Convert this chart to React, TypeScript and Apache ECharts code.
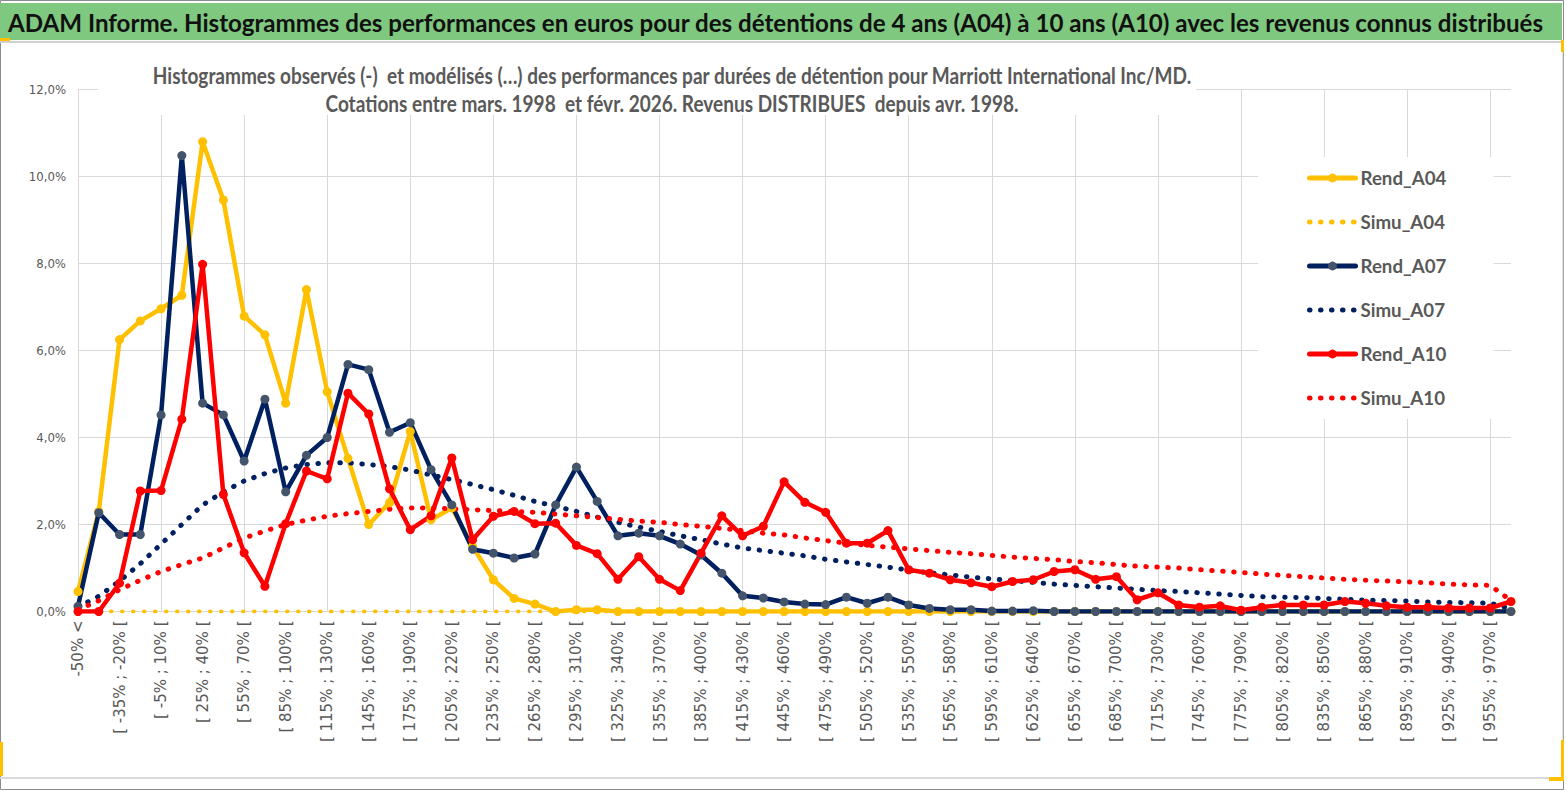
import React, { useEffect, useRef } from "react";
import * as echarts from "echarts";

const W = 1567;
const H = 791;

const mainTitle =
  "ADAM Informe. Histogrammes des performances en euros pour des détentions de 4 ans (A04) à 10 ans (A10) avec les revenus connus distribués";
const subTitle1 =
  "Histogrammes observés (-)  et modélisés (…) des performances par durées de détention pour Marriott International Inc/MD.";
const subTitle2 =
  "Cotations entre mars. 1998  et févr. 2026. Revenus DISTRIBUES  depuis avr. 1998.";

// category labels: first "-50% <", then 15-point brackets
const categories: string[] = ["-50% <"];
for (let k = 1; k < 70; k++) {
  const lo = -50 + 15 * (k - 1);
  categories.push(`[ ${lo}% ; ${lo + 15}% [`);
}

const yTicks = [0, 2, 4, 6, 8, 10, 12];

const rendA04 = [
  0.46, 2.3, 6.25, 6.68, 6.96, 7.27, 10.8, 9.46, 6.79, 6.36,
  4.79, 7.4, 5.05, 3.52, 2.0, 2.5, 4.14, 2.11, 2.38, 1.5,
  0.73, 0.3, 0.17, 0.0, 0.04, 0.04, 0.0, 0, 0, 0,
  0, 0, 0, 0, 0, 0, 0, 0, 0, 0,
  0, 0, 0, 0, 0, 0, 0, 0, 0, 0,
  0, 0, 0, 0, 0, 0, 0, 0, 0, 0,
  0, 0, 0, 0, 0, 0, 0, 0, 0, 0,
];

const simuA04 = [
  0, 0, 0, 0, 0, 0, 0, 0, 0, 0,
  0, 0, 0, 0, 0, 0, 0, 0, 0, 0,
  0, 0, 0, 0, 0, 0, 0, 0, 0, 0,
  0, 0, 0, 0, 0, 0, 0, 0, 0, 0,
  0, 0, 0, 0, 0, 0, 0, 0, 0, 0,
  0, 0, 0, 0, 0, 0, 0, 0, 0, 0,
  0, 0, 0, 0, 0, 0, 0, 0, 0, 0,
];

const rendA07 = [
  0.12, 2.27, 1.77, 1.77, 4.52, 10.48, 4.79, 4.52, 3.46, 4.88,
  2.75, 3.59, 4.0, 5.68, 5.56, 4.12, 4.34, 3.26, 2.45, 1.43,
  1.34, 1.23, 1.32, 2.45, 3.32, 2.53, 1.74, 1.8, 1.74, 1.55,
  1.3, 0.88, 0.36, 0.31, 0.22, 0.17, 0.16, 0.33, 0.19, 0.33,
  0.15, 0.07, 0.04, 0.04, 0.01, 0.01, 0.02, 0, 0, 0,
  0, 0, 0, 0, 0, 0, 0, 0, 0, 0,
  0, 0, 0, 0, 0, 0, 0, 0, 0, 0,
];

const simuA07 = [
  0.1, 0.35, 0.7, 1.1, 1.55, 2.0, 2.45, 2.75, 3.0, 3.17,
  3.3, 3.38, 3.42, 3.42, 3.38, 3.33, 3.25, 3.14, 3.03, 2.92,
  2.8, 2.67, 2.53, 2.42, 2.3, 2.17, 2.05, 1.94, 1.84, 1.74,
  1.65, 1.55, 1.46, 1.4, 1.34, 1.28, 1.2, 1.14, 1.08, 1.02,
  0.95, 0.89, 0.84, 0.79, 0.75, 0.71, 0.67, 0.63, 0.6, 0.57,
  0.54, 0.51, 0.48, 0.46, 0.43, 0.4, 0.37, 0.34, 0.33, 0.32,
  0.3, 0.28, 0.26, 0.25, 0.24, 0.22, 0.21, 0.2, 0.19, 0.06,
];

const rendA10 = [
  0, 0, 0.65, 2.77, 2.78, 4.42, 7.98, 2.69, 1.35, 0.58,
  2.02, 3.23, 3.05, 5.02, 4.54, 2.82, 1.88, 2.2, 3.53, 1.65,
  2.19, 2.3, 2.02, 2.03, 1.52, 1.33, 0.74, 1.26, 0.74, 0.48,
  1.34, 2.2, 1.74, 1.96, 2.98, 2.51, 2.28, 1.57, 1.57, 1.86,
  0.96, 0.88, 0.73, 0.66, 0.57, 0.69, 0.73, 0.92, 0.96, 0.74,
  0.8, 0.27, 0.43, 0.15, 0.1, 0.13, 0.03, 0.1, 0.15, 0.15,
  0.15, 0.23, 0.19, 0.13, 0.1, 0.1, 0.08, 0.08, 0.08, 0.23,
];

const simuA10 = [
  0.04, 0.25, 0.5, 0.72, 0.92, 1.08, 1.23, 1.46, 1.69, 1.85,
  2.0, 2.1, 2.19, 2.25, 2.3, 2.35, 2.38, 2.38, 2.36, 2.34,
  2.32, 2.3, 2.28, 2.24, 2.2, 2.16, 2.12, 2.08, 2.05, 2.0,
  1.96, 1.91, 1.86, 1.8, 1.76, 1.69, 1.63, 1.57, 1.52, 1.48,
  1.44, 1.4, 1.36, 1.33, 1.29, 1.25, 1.22, 1.19, 1.15, 1.12,
  1.08, 1.04, 1.02, 1.0, 0.96, 0.93, 0.9, 0.86, 0.83, 0.8,
  0.77, 0.74, 0.72, 0.7, 0.68, 0.66, 0.63, 0.61, 0.6, 0.25,
];

const YELLOW = "#FFC000";
const NAVY = "#002060";
const NAVY_MARK = "#44546A";
const RED = "#FF0000";
const GRID = "#d9d9d9";
const TXT = "#595959";

function measure(text: string, font: string): number {
  const c = document.createElement("canvas").getContext("2d");
  if (!c) return 1000;
  c.font = font;
  return c.measureText(text).width;
}

function rendSeries(name: string, data: number[], color: string, mark: string) {
  return {
    name,
    type: "line",
    data,
    symbol: "circle",
    symbolSize: 9,
    showSymbol: true,
    lineStyle: { width: 4.5, color, cap: "round", join: "round" },
    itemStyle: { color: mark, borderWidth: 0 },
    emphasis: { disabled: true },
  };
}

function simuSeries(name: string, data: number[], color: string, width: number) {
  return {
    name,
    type: "line",
    data,
    symbol: "none",
    lineStyle: { width, color, type: [0.5, 10.5], cap: "round" },
    itemStyle: { color },
    emphasis: { disabled: true },
  };
}

export default function App() {
  const ref = useRef<HTMLDivElement>(null);
  useEffect(() => {
    if (!ref.current) return;
    const chart = echarts.init(ref.current, undefined, { renderer: "svg" });

    const titleFont = "bold 25px Lato";
    const subFont = "bold 22px Lato";
    const titleScale = 1537 / measure(mainTitle, titleFont);
    const subScale = 1040 / measure(subTitle1, subFont);
    const legendSize = Math.round(20 * (86 / measure("Rend_A04", "bold 20px Lato")) * 10) / 10;

    const hiddenMark = { opacity: 0 };

    const option: any = {
      animation: false,
      backgroundColor: "#ffffff",
      grid: { left: 78, right: W - 1511, top: 89.5, bottom: H - 611.5, containLabel: false },
      xAxis: {
        type: "category",
        data: categories,
        boundaryGap: false,
        axisLine: { show: true, lineStyle: { color: GRID, width: 1 } },
        axisTick: { show: false },
        axisLabel: {
          interval: 1,
          rotate: 90,
          margin: 9,
          color: TXT,
          fontSize: 15,
          fontFamily: "DejaVu Sans",
        },
        splitLine: {
          show: true,
          interval: (i: number) => i % 4 === 0,
          lineStyle: { color: GRID, width: 1 },
        },
      },
      yAxis: {
        type: "value",
        min: yTicks[0],
        max: yTicks[yTicks.length - 1],
        interval: 2,
        axisLine: { show: false },
        axisTick: { show: false },
        axisLabel: {
          margin: 12,
          color: TXT,
          fontSize: 13,
          fontFamily: "DejaVu Sans Condensed",
          formatter: (v: number) => v.toFixed(1).replace(".", ",") + "%",
        },
        splitLine: { show: true, lineStyle: { color: GRID, width: 1 } },
      },
      legend: {
        orient: "vertical",
        left: 1258,
        top: 157,
        padding: [10, 47, 10, 49],
        backgroundColor: "#ffffff",
        itemWidth: 46,
        itemHeight: 11,
        itemGap: 22,
        selectedMode: false,
        lineStyle: { width: 5 },
        data: [
          { name: "Rend_A04" },
          { name: "Simu_A04", itemStyle: hiddenMark },
          { name: "Rend_A07" },
          { name: "Simu_A07", itemStyle: hiddenMark },
          { name: "Rend_A10" },
          { name: "Simu_A10", itemStyle: hiddenMark },
        ],
        textStyle: {
          color: TXT,
          fontSize: legendSize,
          fontWeight: "bold",
          lineHeight: 22,
          fontFamily: "Lato",
        },
      },
      series: [
        rendSeries("Rend_A04", rendA04, YELLOW, YELLOW),
        simuSeries("Simu_A04", simuA04, YELLOW, 4),
        rendSeries("Rend_A07", rendA07, NAVY, NAVY_MARK),
        simuSeries("Simu_A07", simuA07, NAVY, 5),
        rendSeries("Rend_A10", rendA10, RED, RED),
        simuSeries("Simu_A10", simuA10, RED, 5),
      ],
      graphic: [
        { type: "rect", z: 0, silent: true, shape: { x: 0.5, y: 0.5, width: 1563, height: 789 }, style: { fill: "none", stroke: "#8c8c8c", lineWidth: 1 } },
        { type: "rect", z: 1, silent: true, shape: { x: 0, y: 3, width: 1562, height: 37 }, style: { fill: "#7fc87f" } },
        { type: "line", z: 1, silent: true, shape: { x1: 0, y1: 42, x2: 1562, y2: 42 }, style: { stroke: "#d0d0d0", lineWidth: 2 } },
        { type: "line", z: 1, silent: true, shape: { x1: 0, y1: 778, x2: 1562, y2: 778 }, style: { stroke: "#d9d9d9", lineWidth: 2 } },
        { type: "line", z: 1, silent: true, shape: { x1: 1563, y1: 40, x2: 1563, y2: 780 }, style: { stroke: "#bfbfbf", lineWidth: 1 } },
        { type: "rect", z: 2, silent: true, shape: { x: 0, y: 38, width: 10, height: 3 }, style: { fill: YELLOW } },
        { type: "rect", z: 2, silent: true, shape: { x: 1561, y: 40, width: 3, height: 12 }, style: { fill: YELLOW } },
        { type: "rect", z: 2, silent: true, shape: { x: 1561, y: 740, width: 3, height: 40 }, style: { fill: YELLOW } },
        { type: "rect", z: 2, silent: true, shape: { x: 1549, y: 777, width: 15, height: 4 }, style: { fill: YELLOW } },
        { type: "rect", z: 2, silent: true, shape: { x: 0, y: 742, width: 3, height: 34 }, style: { fill: YELLOW } },
        {
          type: "text",
          z: 3,
          silent: true,
          x: 8,
          y: 22,
          scaleX: titleScale,
          style: { text: mainTitle, font: titleFont, fill: "#111111", align: "left", verticalAlign: "middle" },
        },
        { type: "rect", z: 3, silent: true, shape: { x: 98, y: 57, width: 1098, height: 58 }, style: { fill: "#ffffff" } },
        {
          type: "text",
          z: 4,
          silent: true,
          x: 672,
          y: 61,
          scaleX: subScale,
          style: {
            text: subTitle1 + "\n" + subTitle2,
            font: subFont,
            lineHeight: 28,
            fill: TXT,
            align: "center",
            verticalAlign: "top",
          },
        },
      ],
    };
    chart.setOption(option);
    return () => chart.dispose();
  }, []);
  return <div ref={ref} style={{ position: "absolute", left: 0, top: 0, width: W, height: H }} />;
}
